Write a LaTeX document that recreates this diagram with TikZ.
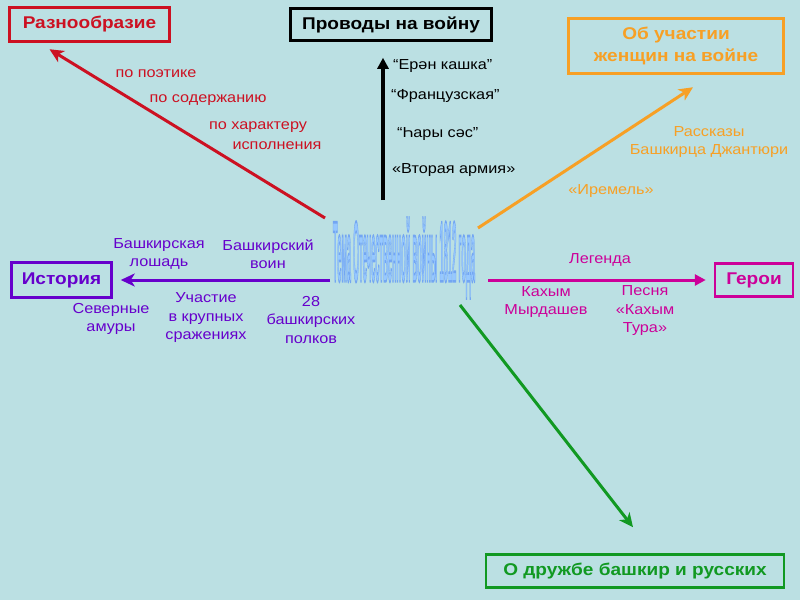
\documentclass[tikz,border=0pt]{standalone}
\usepackage{fontspec}
\setmainfont[FakeStretch=1.12]{Liberation Sans}
\newfontfamily\myheavyfont[FakeBold=3]{Liberation Sans Bold}
\usetikzlibrary{arrows.meta}
\definecolor{bg}{RGB}{187,224,227}
\definecolor{cred}{RGB}{204,17,34}
\definecolor{corange}{RGB}{247,160,37}
\definecolor{cpurple}{RGB}{102,0,204}
\definecolor{cmag}{RGB}{204,0,153}
\definecolor{cgreen}{RGB}{17,153,34}
\definecolor{ctitle}{RGB}{150,200,255}
\definecolor{cshadow}{RGB}{160,70,80}
\newcommand\mytitletext{\resizebox{142pt}{64pt}{\color{ctitle}\special{pdf:literal direct 0.45 0.65 0.95 RG}\myheavyfont Тема Отечественной войны 1812 года}}
\begin{document}
\begin{tikzpicture}[x=1pt,y=-1pt,
  box/.style={draw,line width=2.5pt,inner sep=0pt,align=center,
    font=\fontsize{17}{22}\selectfont\bfseries},
  lbl/.style={inner sep=0pt,align=center,font=\fontsize{14.5}{18.5}\selectfont},
  conn/.style={line width=3pt},
  barb/.style={-{Stealth[length=14pt,width=13pt,inset=4pt]}},
  tri/.style={-{Triangle[length=11pt,width=11pt]}}]
\fill[bg] (0,0) rectangle (800,600);
\useasboundingbox (0,0) rectangle (800,600);

% boxes
\node[box,cred,minimum width=160pt,minimum height=34pt] (red) at (89.5,24.5) {Разнообразие};
\node[box,black,minimum width=201pt,minimum height=32pt] (black) at (391,24.5) {Проводы на войну};
\node[box,corange,minimum width=215pt,minimum height=55pt] (orange) at (676,46) {Об участии\\женщин на войне};
\node[box,cpurple,minimum width=100pt,minimum height=35pt] (purple) at (61.5,280) {История};
\node[box,cmag,minimum width=78pt,minimum height=33pt] (mag) at (754,280) {Герои};
\node[box,cgreen,minimum width=298pt,minimum height=33pt] (green) at (635,571) {О дружбе башкир и русских};

% centre title
\node[inner sep=0pt] (title) at (404,258) {\mytitletext};

% connector start points
\coordinate (rs) at (325,218);
\coordinate (bs) at (383,200);
\coordinate (os) at (478,228);
\coordinate (ps) at (330,280);
\coordinate (ms) at (488,280);
\coordinate (gs) at (460,305);

\draw[conn,barb,cred] (rs) -- ([xshift=-40pt,yshift=-6.5pt]red.south);
\draw[conn,tri,black,line width=3.5pt] (bs) -- ([xshift=-8pt,yshift=-16pt]black.south);
\draw[conn,barb,corange] (os) -- ([xshift=17pt,yshift=-12.5pt]orange.south);
\draw[conn,barb,cpurple] (ps) -- ([xshift=8pt]purple.east);
\draw[conn,tri,cmag] (ms) -- ([xshift=-8pt]mag.west);
\draw[conn,barb,cgreen] (gs) -- ([xshift=-2pt,yshift=26pt]green.north);

% red labels
\node[lbl,cred] (r1) at (156,74) {по поэтике};
\node[lbl,cred] (r2) at (208,100) {по содержанию};
\node[lbl,cred] (r3) at (258,127) {по характеру};
\node[lbl,cred] (r4) at (277,146) {исполнения};

% black labels
\node[lbl,black,anchor=west] (b1) at (393,66) {“Ерән кашка”};
\node[lbl,black,anchor=west] (b2) at (391,96) {“Французская”};
\node[lbl,black,anchor=west] (b3) at (397,134) {“Һары сәс”};
\node[lbl,black,anchor=west] (b4) at (392,170) {«Вторая армия»};

% orange labels
\node[lbl,corange] (o1) at (709,142) {Рассказы\\Башкирца Джантюри};
\node[lbl,corange] (o2) at (611,191) {«Иремель»};

% purple labels
\node[lbl,cpurple] (p1) at (159,254) {Башкирская\\лошадь};
\node[lbl,cpurple] (p2) at (268,254) {Башкирский\\воин};
\node[lbl,cpurple] (p3) at (111,319) {Северные\\амуры};
\node[lbl,cpurple] (p4) at (206,318) {Участие\\в крупных\\сражениях};
\node[lbl,cpurple] (p5) at (311,320) {28\\башкирских\\полков};

% magenta labels
\node[lbl,cmag] (m1) at (600,260) {Легенда};
\node[lbl,cmag] (m2) at (546,302) {Кахым\\Мырдашев};
\node[lbl,cmag] (m3) at (645,311) {Песня\\«Кахым\\Тура»};
\end{tikzpicture}
\end{document}
